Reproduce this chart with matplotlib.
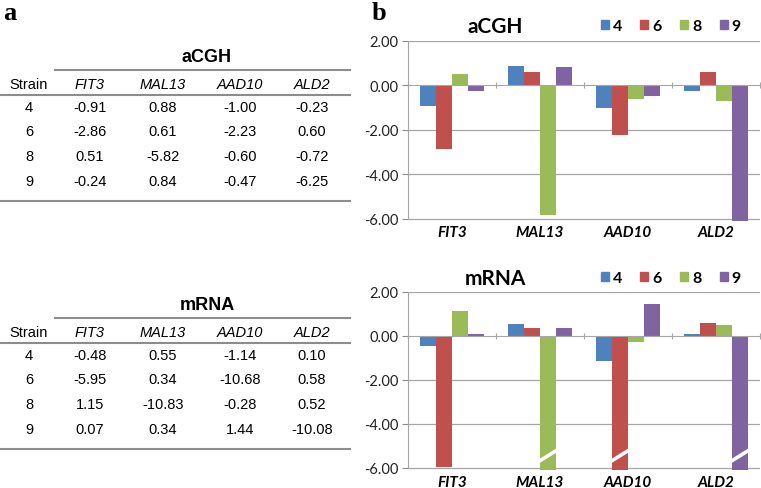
import numpy as np
import matplotlib
matplotlib.use('Agg')
import matplotlib.pyplot as plt
from matplotlib.patches import Patch
from matplotlib.transforms import blended_transform_factory

genes = ['FIT3', 'MAL13', 'AAD10', 'ALD2']
strains = ['4', '6', '8', '9']

# rows = strains, columns = genes
acgh = [[-0.91, 0.88, -1.00, -0.23],
        [-2.86, 0.61, -2.23, 0.60],
        [0.51, -5.82, -0.60, -0.72],
        [-0.24, 0.84, -0.47, -6.25]]

mrna = [[-0.48, 0.55, -1.14, 0.10],
        [-5.95, 0.34, -10.68, 0.58],
        [1.15, -10.83, -0.28, 0.52],
        [0.07, 0.34, 1.44, -10.08]]

colors = ['#4F81BD', '#C0504D', '#9BBB59', '#8064A2']
y_ticks = [2, 0, -2, -4, -6]

W, H = 761, 489
fig = plt.figure(figsize=(W / 100, H / 100), dpi=100)

chart_font = 'Lato'
table_font = 'Liberation Sans'
line_col = '#8c8c8c'

# ---------- panel a: the two tables ----------
tab = fig.add_axes([0, 0, 380 / W, 1])
tab.set_xlim(0, 380)
tab.set_ylim(H, 0)
tab.axis('off')

col_x = [29, 90, 163, 240, 312]


def draw_table(top, title, values):
    tab.text(207, top, title, ha='center', va='center', fontsize=13,
             fontweight='bold', family=table_font)
    tab.plot([55, 350], [top + 14, top + 14], color=line_col, lw=1.5)
    tab.text(col_x[0], top + 28, 'Strain', ha='center', va='center',
             fontsize=10.5, family=table_font)
    for x, g in zip(col_x[1:], genes):
        tab.text(x, top + 28, g, ha='center', va='center', fontsize=10.5,
                 style='italic', family=table_font)
    tab.plot([0, 350], [top + 39, top + 39], color=line_col, lw=1.5)
    for i, s in enumerate(strains):
        y = top + 51 + i * 24.5
        tab.text(col_x[0], y, s, ha='center', va='center', fontsize=10.5,
                 family=table_font)
        for x, v in zip(col_x[1:], values[i]):
            tab.text(x, y, '%.2f' % v, ha='center', va='center',
                     fontsize=10.5, family=table_font)
    tab.plot([0, 350], [top + 145, top + 145], color=line_col, lw=1.5)


draw_table(57, 'aCGH', acgh)
draw_table(305, 'mRNA', mrna)

fig.text(3 / W, 1 - 13 / H, 'a', fontsize=19, fontweight='bold',
         family='Liberation Serif', va='center', ha='left')
fig.text(372 / W, 1 - 13 / H, 'b', fontsize=19, fontweight='bold',
         family='Liberation Serif', va='center', ha='left')

# ---------- panel b: bar charts ----------
ymin, ymax = -6.1, 2.0
n = len(strains)
bw = 1 / (n + 1.5)
xs = np.arange(len(genes))


def draw_chart(rect, title, values, title_y, lab_y, broken):
    ax = fig.add_axes(rect)
    for j in range(n):
        off = (j - (n - 1) / 2) * bw
        vals = np.array(values[j])
        ax.bar(xs + off, vals, bw, color=colors[j], label=strains[j],
               linewidth=0, zorder=3)
        # break marks on bars that run far off the axis
        if broken:
            for x, v in zip(xs + off, vals):
                if v < ymin:
                    ax.plot([x - bw / 2 - 0.01, x + bw / 2 + 0.01],
                            [-5.7, -5.2], color='white', lw=2.6, zorder=4,
                            solid_capstyle='butt')
    ax.set_xlim(-0.5, len(genes) - 0.5)
    ax.set_ylim(ymin, ymax)
    ax.set_yticks(y_ticks)
    ax.set_yticklabels(['%.2f' % t for t in y_ticks], fontsize=10.5,
                       family=chart_font, color='#222222')
    ax.tick_params(axis='y', length=4, color=line_col, width=0.8, pad=3)
    for t in y_ticks:
        if t != 0:
            ax.axhline(t, color='#a6a6a6', lw=0.9, zorder=1)
    for s in ['top', 'right']:
        ax.spines[s].set_visible(False)
    ax.spines['left'].set_color('#a6a6a6')
    ax.spines['left'].set_bounds(-6, 2)
    ax.spines['bottom'].set_position(('data', 0))
    ax.spines['bottom'].set_color('#a6a6a6')
    ax.spines['bottom'].set_zorder(5)
    ax.set_xticks(np.arange(len(genes) + 1) - 0.5)
    ax.set_xticklabels([])
    ax.tick_params(axis='x', direction='inout', length=5, color='#a6a6a6',
                   width=0.8)
    tr = blended_transform_factory(ax.transData, ax.transAxes)
    for x, g in zip(xs, genes):
        ax.text(x, lab_y, g, transform=tr, ha='center', va='center',
                fontsize=11, fontweight='bold', style='italic',
                family=chart_font)
    ax.text(0.247, title_y, title, transform=ax.transAxes, ha='center',
            va='center', fontsize=15, fontweight='bold', family=chart_font)
    handles = [Patch(color=c, label=s) for c, s in zip(colors, strains)]
    ax.legend(handles=handles, ncol=n, loc='center right',
              bbox_to_anchor=(0.968, title_y), frameon=False,
              handlelength=0.5, handleheight=0.5, handletextpad=0.25,
              columnspacing=1.15, borderpad=0,
              prop={'family': chart_font, 'weight': 'bold', 'size': 11.5})
    return ax


draw_chart([408 / W, 1 - 222 / H, 352 / W, 180 / H], 'aCGH', acgh,
           1.083, -0.061, False)
draw_chart([408 / W, 1 - 471 / H, 352 / W, 178 / H], 'mRNA', mrna,
           1.079, -0.067, True)

fig.savefig('out.png', dpi=100)
